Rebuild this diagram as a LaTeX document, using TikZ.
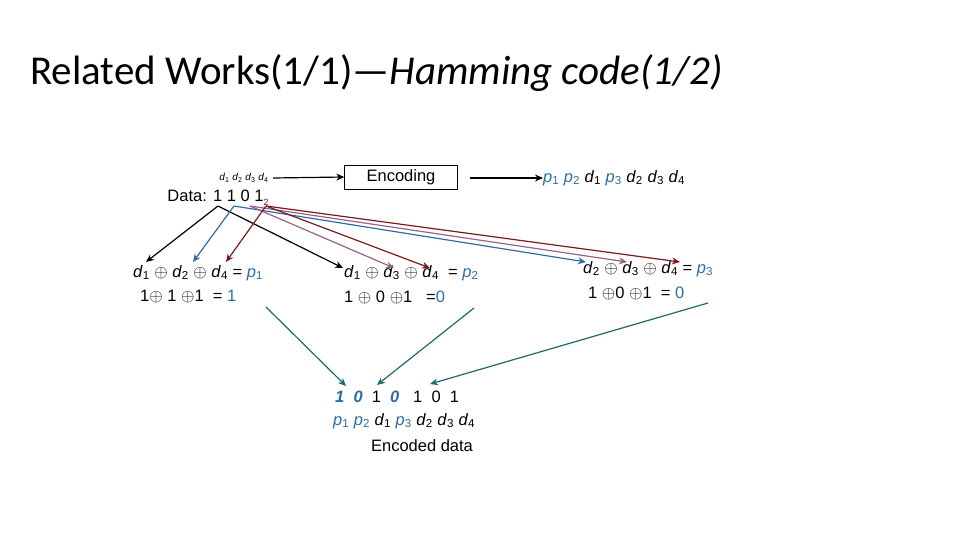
\documentclass[tikz,border=0pt]{standalone}
\usepackage{fontspec}
\setmainfont{Liberation Sans}
\newfontfamily\ttl{Carlito}
\usetikzlibrary{arrows.meta}
\definecolor{pb}{HTML}{2E6DA4}
\definecolor{mr}{HTML}{7B1A1A}
\definecolor{pu}{HTML}{9A6488}
\definecolor{tl}{HTML}{1E6B6B}
\newcommand{\dd}[1]{\textit{d}\textsubscript{#1}}
\newcommand{\pp}[1]{\textcolor{pb}{\textit{p}\textsubscript{#1}}}
\newcommand{\xo}{$\oplus$}
\begin{document}
\begin{tikzpicture}[x=1pt,y=-1pt,
  t/.style={inner sep=0pt,font=\fontsize{16.5}{18}\selectfont},
  a/.style={-{Stealth[length=8pt,width=7pt]},line width=1.2pt}]
\useasboundingbox[fill=white] (0,0) rectangle (960,540);
\node[anchor=west,inner sep=0pt,font=\ttl\fontsize{41}{44}\selectfont] (title) at (30,73) {Related Works(1/1)\textemdash\textit{Hamming code(1/2)}};
\node[t,font=\fontsize{10}{11}\selectfont] (dl) at (244,178) {\dd1 \dd2 \dd3 \dd4};
\node[t] (data) at (218,198) {Data: 1 1 0 1\raisebox{-4pt}{\textcolor{mr}{\small 2}}};
\coordinate (s1) at (218,206);\coordinate (s2) at (234,206);\coordinate (s3) at (250,206);\coordinate (s4) at (266,206);
\node[draw,t,minimum width=113pt,minimum height=24pt] (enc) at (401,177) {Encoding};
\node[t,anchor=west] (out) at (543,178) {\pp1 \pp2 \dd1 \pp3 \dd2 \dd3 \dd4};
\coordinate (q1) at (273,178); \coordinate (q2) at (470,178);
\draw[a] (q1) -- (enc.west);
\draw[a] (q2) -- (out.west);
\node[t,anchor=west] (f1) at (133,273) {\dd1 \xo\ \dd2 \xo\ \dd4 = \pp1};
\node[t,anchor=west] (g1) at (140,297) {1\xo\ 1 \xo1 \ = \textcolor{pb}{1}};
\node[t,anchor=west] (f2) at (344,273) {\dd1 \xo\ \dd3 \xo\ \dd4 \ = \pp2};
\node[t,anchor=west] (g2) at (344,297) {1 \xo\ 0 \xo1 \ \ =\textcolor{pb}{0}};
\node[t,anchor=west] (f3) at (583,269) {\dd2 \xo\ \dd3 \xo\ \dd4 = \pp3};
\node[t,anchor=west] (g3) at (588,293) {1 \xo0 \xo1 \ = \textcolor{pb}{0}};
\node[t,anchor=west] (e1) at (335,397) {\textcolor{pb}{\textbf{\textit{1\ \ 0}}}\ \ 1\ \ \textcolor{pb}{\textbf{\textit{0}}}\ \ \ 1\ \ 0\ \ 1};
\node[t,anchor=west] (e2) at (333,421) {\pp1 \pp2 \dd1 \pp3 \dd2 \dd3 \dd4};
\node[t] (e3) at (422,446) {Encoded data};
\coordinate (c1) at (146,262);\coordinate (c2) at (193,262);\coordinate (c3) at (226,262);
\coordinate (c4) at (343,268);\coordinate (c5) at (394,268);\coordinate (c6) at (430,268);
\coordinate (c7) at (586,262);\coordinate (c8) at (627,262);\coordinate (c9) at (680,262);
\draw[a] (s1) -- (c1); \draw[a] (s1) -- (c4);
\draw[a,pb] (s2) -- (c2); \draw[a,pb] (s2) -- (c7);
\draw[a,pu] (s3) -- (c5); \draw[a,pu] (s3) -- (c8);
\draw[a,mr] (s4) -- (c3); \draw[a,mr] (s4) -- (c6); \draw[a,mr] (s4) -- (c9);
\coordinate (t1) at (266,307);\coordinate (t2) at (474,308);\coordinate (t3) at (708,303);
\coordinate (u1) at (346,386);\coordinate (u2) at (377,385);\coordinate (u3) at (430,384);
\draw[a,tl] (t1) -- (u1); \draw[a,tl] (t2) -- (u2); \draw[a,tl] (t3) -- (u3);
\end{tikzpicture}
\end{document}
